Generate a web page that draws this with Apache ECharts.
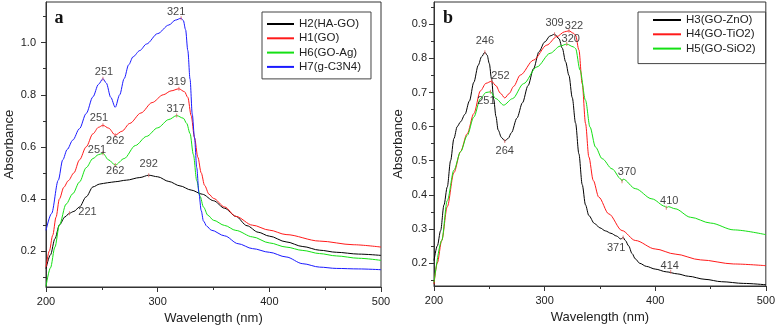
<!DOCTYPE html>
<html lang="en">
<head>
<meta charset="UTF-8">
<title>UV-Vis absorbance</title>
<script src="https://cdn.jsdelivr.net/npm/echarts@6/dist/echarts.min.js"></script>
<style>html,body{margin:0;padding:0;background:#fff;}</style>
</head>
<body>
<div id="main" style="width:778px;height:331px;"></div>
<script type="text/javascript">
// ---- panel a ----
var wlH2 = [200, 204, 208, 212, 217, 221, 225, 230, 236, 242, 248, 255, 262, 272, 284, 292, 300, 310, 320, 330, 340, 350, 360, 370, 380, 390, 400, 415, 430, 445, 460, 480, 500];
var absH2 = [0.132, 0.185, 0.247, 0.300, 0.331, 0.345, 0.352, 0.369, 0.408, 0.446, 0.457, 0.462, 0.466, 0.472, 0.482, 0.491, 0.485, 0.467, 0.450, 0.434, 0.418, 0.393, 0.364, 0.333, 0.297, 0.272, 0.257, 0.235, 0.217, 0.203, 0.195, 0.188, 0.183];

var wlH1 = [200, 203, 206, 209, 212, 216, 220, 225, 230, 236, 242, 247, 251, 256, 262, 268, 275, 285, 295, 305, 312, 319, 324, 327, 330, 333, 336, 339, 342, 346, 350, 360, 370, 385, 400, 415, 445, 475, 500];
var absH1 = [0.138, 0.200, 0.260, 0.330, 0.400, 0.445, 0.470, 0.500, 0.550, 0.600, 0.650, 0.675, 0.683, 0.672, 0.645, 0.660, 0.690, 0.730, 0.770, 0.800, 0.815, 0.823, 0.812, 0.790, 0.720, 0.635, 0.560, 0.500, 0.452, 0.418, 0.402, 0.369, 0.333, 0.299, 0.280, 0.263, 0.238, 0.224, 0.215];

var wlH6 = [200, 204, 208, 212, 218, 224, 230, 236, 242, 247, 251, 256, 262, 270, 280, 290, 300, 310, 317, 323, 326, 329, 332, 335, 338, 341, 345, 350, 360, 370, 385, 400, 415, 430, 445, 460, 480, 500];
var absH6 = [0.064, 0.135, 0.215, 0.300, 0.380, 0.420, 0.465, 0.520, 0.555, 0.570, 0.575, 0.550, 0.530, 0.555, 0.605, 0.640, 0.673, 0.705, 0.720, 0.710, 0.690, 0.651, 0.570, 0.470, 0.410, 0.369, 0.337, 0.318, 0.298, 0.279, 0.254, 0.231, 0.215, 0.202, 0.190, 0.181, 0.172, 0.164];

var wlH7 = [200, 205, 211, 215, 219, 224, 230, 236, 242, 247, 251, 254, 258, 262, 266, 270, 274, 278, 284, 290, 300, 310, 316, 321, 323, 325, 327, 329, 331, 333, 335, 337, 339, 341, 344, 348, 360, 372, 385, 400, 415, 430, 445, 460, 480, 500];
var absH7 = [0.279, 0.344, 0.472, 0.550, 0.590, 0.626, 0.670, 0.728, 0.792, 0.840, 0.862, 0.845, 0.790, 0.752, 0.800, 0.862, 0.915, 0.946, 0.970, 0.995, 1.035, 1.068, 1.087, 1.094, 1.085, 1.050, 0.970, 0.860, 0.725, 0.635, 0.520, 0.420, 0.355, 0.315, 0.295, 0.280, 0.258, 0.228, 0.209, 0.195, 0.177, 0.151, 0.138, 0.133, 0.131, 0.128];

// ---- panel b ----
var wlH3 = [200, 203, 206, 209, 212, 215, 218, 221, 224, 228, 232, 236, 240, 243, 246, 248, 250, 252, 254, 256, 258, 261, 264, 267, 270, 275, 280, 285, 290, 295, 300, 305, 309, 313, 316, 319, 322, 325, 328, 331, 334, 337, 340, 345, 350, 355, 360, 365, 369, 371, 373, 376, 379, 382, 386, 392, 400, 410, 420, 430, 445, 460, 480, 500];
var absH3 = [0.207, 0.250, 0.295, 0.370, 0.423, 0.500, 0.565, 0.600, 0.614, 0.636, 0.675, 0.730, 0.780, 0.805, 0.818, 0.810, 0.785, 0.740, 0.680, 0.630, 0.590, 0.568, 0.558, 0.565, 0.582, 0.625, 0.670, 0.720, 0.770, 0.820, 0.848, 0.866, 0.871, 0.858, 0.830, 0.790, 0.750, 0.685, 0.610, 0.520, 0.430, 0.370, 0.339, 0.316, 0.303, 0.294, 0.287, 0.279, 0.270, 0.275, 0.266, 0.250, 0.228, 0.212, 0.199, 0.190, 0.182, 0.174, 0.168, 0.161, 0.152, 0.145, 0.140, 0.136];

var wlH4 = [200, 203, 207, 212, 218, 224, 230, 236, 242, 247, 252, 256, 260, 264, 268, 272, 278, 290, 302, 311, 318, 322, 326, 328, 331, 334, 337, 340, 344, 349, 358, 370, 382, 400, 418, 441, 471, 500];
var absH4 = [0.138, 0.200, 0.266, 0.365, 0.465, 0.527, 0.579, 0.638, 0.705, 0.727, 0.733, 0.720, 0.698, 0.684, 0.697, 0.718, 0.751, 0.795, 0.839, 0.864, 0.878, 0.881, 0.874, 0.868, 0.825, 0.726, 0.609, 0.511, 0.442, 0.393, 0.344, 0.295, 0.266, 0.241, 0.226, 0.209, 0.197, 0.192];

var wlH5 = [200, 207, 212, 218, 224, 230, 236, 242, 247, 251, 256, 263, 271, 281, 293, 305, 314, 320, 326, 328, 332, 337, 341, 346, 352, 361, 369, 370, 371, 382, 397, 409, 410, 412, 418, 432, 450, 471, 500];
var absH5 = [0.143, 0.266, 0.383, 0.472, 0.526, 0.574, 0.628, 0.682, 0.700, 0.702, 0.682, 0.663, 0.682, 0.726, 0.775, 0.815, 0.836, 0.842, 0.834, 0.829, 0.766, 0.677, 0.599, 0.540, 0.506, 0.476, 0.446, 0.440, 0.446, 0.418, 0.388, 0.366, 0.362, 0.365, 0.359, 0.334, 0.317, 0.297, 0.283];

// peak annotations: [wavelength, absorbance]; the label text is the wavelength
var peaksA = [[321, 1.094], [251, 0.862], [319, 0.823], [251, 0.683], [262, 0.645], [317, 0.720], [251, 0.575], [262, 0.530], [292, 0.491], [221, 0.345]];
var peaksB = [[246, 0.818], [252, 0.733], [251, 0.702], [264, 0.558], [309, 0.871], [322, 0.881], [320, 0.842], [370, 0.440], [410, 0.362], [371, 0.275], [414, 0.174]];
// label offsets (px) for the annotations above
var offA = [[-5, -6], [1, -7], [-2, -7], [-4, -7], [0, 6], [-1, -7], [-6, -3], [0, 6], [0, -11], [18, -1]];
var offB = [[0, -11], [9, -5], [-4, 9], [0, 10], [0, -11], [5, -5], [4, -5], [5, -9], [3, -7], [-7, 11], [-1, -6]];

var ticksA = [0.2, 0.4, 0.6, 0.8, 1.0];
var minorA = [0.1, 0.3, 0.5, 0.7, 0.9, 1.1];
var ticksB = [0.2, 0.3, 0.4, 0.5, 0.6, 0.7, 0.8, 0.9];
var minorB = [0.15, 0.25, 0.35, 0.45, 0.55, 0.65, 0.75, 0.85, 0.95];

var FONT = 'Liberation Sans, Arial, sans-serif';

function zip(xs, ys) {
    var out = [];
    for (var i = 0; i < xs.length; i++) out.push([xs[i], ys[i]]);
    return out;
}

function lineSeries(name, xs, ys, color, xi, yi) {
    return {
        name: name, type: 'line', xAxisIndex: xi, yAxisIndex: yi,
        data: zip(xs, ys), symbol: 'none', smooth: 0.3, smoothMonotone: 'x',
        lineStyle: {color: color, width: 1}, itemStyle: {color: color},
        silent: true, animation: false
    };
}

function peakSeries(peaks, offs, xi, yi) {
    var d = [];
    for (var i = 0; i < peaks.length; i++) {
        d.push({value: peaks[i], label: {offset: offs[i]}});
    }
    return {
        type: 'scatter', xAxisIndex: xi, yAxisIndex: yi, data: d,
        symbol: 'rect', symbolSize: [1, 4],
        itemStyle: {color: '#e06060'},
        label: {
            show: true, position: 'inside', color: '#111', fontSize: 11, fontFamily: FONT,
            formatter: function (p) { return String(p.value[0]); }
        },
        silent: true, animation: false, z: 5
    };
}

function xAx(gi) {
    return {
        gridIndex: gi, type: 'value', min: 200, max: 500, interval: 100,
        name: 'Wavelength (nm)', nameLocation: 'middle', nameGap: 22,
        nameTextStyle: {fontSize: 13, color: '#222', fontFamily: FONT},
        axisLine: {show: true, lineStyle: {color: '#333'}},
        axisTick: {show: true, length: 5, lineStyle: {color: '#333'}},
        minorTick: {show: true, splitNumber: 2, length: 3, lineStyle: {color: '#333'}},
        axisLabel: {fontSize: 11, color: '#222', margin: 9, fontFamily: FONT},
        splitLine: {show: false}
    };
}

function yAx(gi, mn, mx, ticks, gap, margin) {
    return {
        gridIndex: gi, type: 'value', position: 'left', min: mn, max: mx,
        name: 'Absorbance', nameLocation: 'middle', nameGap: gap,
        nameTextStyle: {fontSize: 13, color: '#222', fontFamily: FONT},
        axisLine: {show: true, lineStyle: {color: '#333'}},
        axisTick: {show: true, length: 5, customValues: ticks, lineStyle: {color: '#333'}},
        axisLabel: {
            fontSize: 11, color: '#222', margin: margin, fontFamily: FONT, customValues: ticks,
            formatter: function (v) { return v.toFixed(1); }
        },
        splitLine: {show: false}
    };
}

function yMinor(gi, mn, mx, ticks) {
    return {
        gridIndex: gi, type: 'value', position: 'left', offset: 0, min: mn, max: mx,
        axisLine: {show: false},
        axisTick: {show: true, length: 3, customValues: ticks, lineStyle: {color: '#333'}},
        axisLabel: {show: false},
        splitLine: {show: false}
    };
}

function legendBox(names, left, top, pad, w) {
    return {
        data: names, orient: 'vertical', left: left, top: top, padding: pad,
        itemWidth: w, itemHeight: 12, itemGap: 2.3,
        itemStyle: {opacity: 0},
        borderColor: '#444', borderWidth: 1,
        textStyle: {fontSize: 11.5, color: '#222', fontFamily: FONT}
    };
}

var myChart = echarts.init(document.getElementById('main'), null, {renderer: 'canvas'});

var option = {
    backgroundColor: '#fff',
    animation: false,
    textStyle: {fontFamily: FONT},
    grid: [
        {left: 46, right: 397, top: 2, bottom: 44, show: true, borderColor: '#333', borderWidth: 1},
        {left: 434, right: 9, top: 2, bottom: 45, show: true, borderColor: '#333', borderWidth: 1}
    ],
    xAxis: [xAx(0), xAx(1)],
    yAxis: [
        yAx(0, 0.0616, 1.1564, ticksA, 30, 10),
        yMinor(0, 0.0616, 1.1564, minorA),
        yAx(1, 0.1324, 0.9655, ticksB, 29, 7),
        yMinor(1, 0.1324, 0.9655, minorB)
    ],
    legend: [
        legendBox(['H2(HA-GO)', 'H1(GO)', 'H6(GO-Ag)', 'H7(g-C3N4)'], 262, 12, [6, 10, 6, 4], 27),
        legendBox(['H3(GO-ZnO)', 'H4(GO-TiO2)', 'H5(GO-SiO2)'], 638, 12, [2, 10, 9, 14], 28)
    ],
    graphic: [
        {type: 'text', x: 59, y: 18, style: {text: 'a', font: 'bold 18px "Liberation Serif", serif', fill: '#111', textAlign: 'center', textVerticalAlign: 'middle'}},
        {type: 'text', x: 448, y: 18, style: {text: 'b', font: 'bold 18px "Liberation Serif", serif', fill: '#111', textAlign: 'center', textVerticalAlign: 'middle'}}
    ],
    series: [
        lineSeries('H2(HA-GO)', wlH2, absH2, '#000000', 0, 0),
        lineSeries('H1(GO)', wlH1, absH1, '#ff1a1a', 0, 0),
        lineSeries('H6(GO-Ag)', wlH6, absH6, '#14e014', 0, 0),
        lineSeries('H7(g-C3N4)', wlH7, absH7, '#1a1aff', 0, 0),
        lineSeries('H3(GO-ZnO)', wlH3, absH3, '#000000', 1, 2),
        lineSeries('H4(GO-TiO2)', wlH4, absH4, '#ff1a1a', 1, 2),
        lineSeries('H5(GO-SiO2)', wlH5, absH5, '#14e014', 1, 2),
        peakSeries(peaksA, offA, 0, 0),
        peakSeries(peaksB, offB, 1, 2)
    ]
};

myChart.setOption(option);
</script>
</body>
</html>
